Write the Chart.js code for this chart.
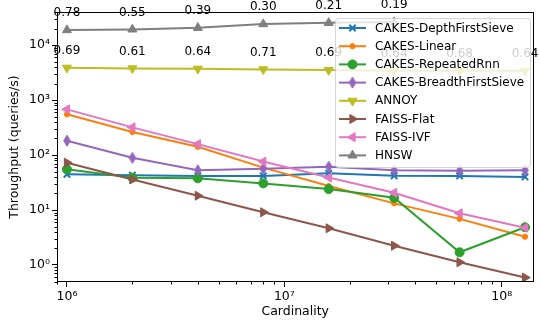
<!DOCTYPE html>
<html><head><meta charset="utf-8">
<script src="https://cdn.jsdelivr.net/npm/chart.js@4/dist/chart.umd.min.js"></script>
<style>html,body{margin:0;padding:0;background:#fff}</style>
</head><body>
<canvas id="c" width="540" height="322"></canvas>
<script>
// ---- data ----
const cardinality = [1e6, 2e6, 4e6, 8e6, 16e6, 32e6, 64e6, 128e6];
const seriesNames = ['CAKES-DepthFirstSieve','CAKES-Linear','CAKES-RepeatedRnn','CAKES-BreadthFirstSieve','ANNOY','FAISS-Flat','FAISS-IVF','HNSW'];
const depthFirstSieve = [44.5, 43, 41.6, 41.6, 46.5, 42, 41.6, 40];
const linear = [550, 262, 141, 59, 27.3, 13.2, 6.9, 3.27];
const repeatedRnn = [55, 38.7, 37.7, 30.5, 24, 16.7, 1.7, 4.85];
const breadthFirstSieve = [182, 89, 53, 56, 61.5, 53, 52, 53];
const annoy = [3866, 3770, 3707, 3614, 3510, 3410, 3400, 3400];
const faissFlat = [72.6, 36, 18.2, 9.1, 4.65, 2.24, 1.12, 0.59];
const faissIvf = [677, 319, 158, 76, 39, 20.6, 8.7, 4.77];
const hnsw = [18750, 19300, 20650, 24100, 25400, 26200];
const annoyRecall = ['0.69','0.61','0.64','0.71','0.69','0.64','0.68','0.64'];
const hnswRecall = ['0.78','0.55','0.39','0.30','0.21','0.19'];
const xTickValues = [1e6, 1e7, 1e8];
const yTickValues = [1, 10, 100, 1000, 10000];

// ---- styles ----
const FONT = "'DejaVu Sans', sans-serif";
function thinDiamond(color){
  const c = document.createElement('canvas'); c.width = 10; c.height = 13;
  const g = c.getContext('2d');
  g.beginPath(); g.moveTo(5,1); g.lineTo(8.3,6.5); g.lineTo(5,12); g.lineTo(1.7,6.5); g.closePath();
  g.fillStyle = color; g.strokeStyle = color; g.lineWidth = 1; g.fill(); g.stroke();
  return c;
}
const styles = [
  {color:'#1f77b4', pointStyle:'crossRot', rotation:0, radius:4.5, bw:2},
  {color:'#ff7f0e', pointStyle:'circle', rotation:0, radius:2.6, bw:1},
  {color:'#2ca02c', pointStyle:'circle', rotation:0, radius:4.5, bw:1},
  {color:'#9467bd', pointStyle:thinDiamond('#9467bd'), rotation:0, radius:5, bw:1},
  {color:'#bcbd22', pointStyle:'triangle', rotation:180, radius:5.2, bw:1},
  {color:'#8c564b', pointStyle:'triangle', rotation:90, radius:5.2, bw:1},
  {color:'#e377c2', pointStyle:'triangle', rotation:270, radius:5.2, bw:1},
  {color:'#7f7f7f', pointStyle:'triangle', rotation:0, radius:5.2, bw:1},
];
const seriesValues = [depthFirstSieve, linear, repeatedRnn, breadthFirstSieve, annoy, faissFlat, faissIvf, hnsw];
const sup = {'0':'⁰','1':'¹','2':'²','3':'³','4':'⁴','5':'⁵','6':'⁶','7':'⁷','8':'⁸','9':'⁹','-':'⁻'};
function powLabel(v){ const e = Math.round(Math.log10(v)); return '10' + String(e).split('').map(c=>sup[c]).join(''); }

const datasets = seriesValues.map((vals, i) => ({
  label: seriesNames[i],
  data: vals.map((v, j) => ({x: cardinality[j], y: v})),
  borderColor: styles[i].color,
  backgroundColor: styles[i].color,
  borderWidth: 2,
  pointStyle: styles[i].pointStyle,
  pointRotation: styles[i].rotation,
  pointRadius: styles[i].radius,
  pointBorderWidth: styles[i].bw,
  pointBackgroundColor: styles[i].color,
  pointBorderColor: styles[i].color,
  tension: 0,
  order: seriesValues.length - 1 - i,
}));

const extras = {
  id: 'extras',
  afterDatasetsDraw(chart){
    const {ctx, chartArea: a, scales: {x, y}} = chart;
    ctx.save();
    // recall annotations
    ctx.fillStyle = '#000';
    ctx.font = '12px ' + FONT;
    ctx.textAlign = 'center'; ctx.textBaseline = 'middle';
    const ann = [[4, annoyRecall], [7, hnswRecall]];
    ann.forEach(([di, labels]) => {
      const meta = chart.getDatasetMeta(di);
      labels.forEach((t, j) => {
        const p = meta.data[j];
        ctx.fillText(t, p.x, p.y - 17);
      });
    });
    // frame
    ctx.strokeStyle = '#000'; ctx.lineWidth = 1;
    const L = Math.round(a.left) + 0.5, T = Math.round(a.top) + 0.5, R = Math.round(a.right) - 0.5, B = Math.round(a.bottom) - 0.5;
    ctx.strokeRect(L, T, R - L, B - T);
    // minor ticks
    ctx.beginPath();
    for (let n = 5; n <= 8; n++) for (let k = 2; k <= 9; k++) {
      const v = k * Math.pow(10, n);
      if (v < x.min || v > x.max) continue;
      const px = Math.round(x.getPixelForValue(v)) + 0.5;
      ctx.moveTo(px, B); ctx.lineTo(px, B + 3);
    }
    for (let n = -1; n <= 4; n++) for (let k = 2; k <= 9; k++) {
      const v = k * Math.pow(10, n);
      if (v < y.min || v > y.max) continue;
      const py = Math.round(y.getPixelForValue(v)) + 0.5;
      ctx.moveTo(L, py); ctx.lineTo(L - 3, py);
    }
    ctx.stroke();
    ctx.restore();
  },
  afterDraw(chart){
    const ctx = chart.ctx;
    ctx.save();
    const bx = 335, by = 18, bw = 195, bh = 149;
    ctx.beginPath();
    ctx.roundRect(bx + 0.5, by + 0.5, bw, bh, 3);
    ctx.fillStyle = 'rgba(255,255,255,0.8)';
    ctx.fill();
    ctx.strokeStyle = 'rgba(204,204,204,0.8)';
    ctx.lineWidth = 1;
    ctx.stroke();
    ctx.font = '12px ' + FONT;
    ctx.textAlign = 'left'; ctx.textBaseline = 'middle';
    seriesNames.forEach((name, i) => {
      const yy = 28 + i * 18.2;
      const s = styles[i];
      ctx.strokeStyle = s.color; ctx.fillStyle = s.color; ctx.lineWidth = 2;
      ctx.beginPath(); ctx.moveTo(339, yy); ctx.lineTo(366, yy); ctx.stroke();
      ctx.lineWidth = s.bw;
      Chart.helpers.drawPoint(ctx, {pointStyle: s.pointStyle, rotation: s.rotation, radius: s.radius, borderWidth: s.bw}, 352.5, yy);
      ctx.fillStyle = '#000';
      ctx.fillText(name, 375, yy + 0.5);
    });
    ctx.restore();
  }
};

new Chart(document.getElementById('c'), {
  type: 'line',
  data: { datasets },
  options: {
    responsive: false, animation: false, devicePixelRatio: 1,
    layout: { padding: { top: 12, right: 5, left: 0, bottom: 0 } },
    plugins: { legend: { display: false }, tooltip: { enabled: false } },
    scales: {
      x: {
        type: 'logarithmic',
        min: 0.9e6, max: 1.40e8,
        afterFit: s => { s.height = 40; },
        afterBuildTicks: s => { s.ticks = xTickValues.map(v => ({value: v, major: true})); },
        ticks: { autoSkip: false, maxRotation: 0, padding: 2, color: '#000', font: { family: FONT, size: 12.5 }, callback: v => powLabel(v) },
        grid: { drawOnChartArea: false, drawTicks: true, tickLength: 5, color: '#000', tickColor: '#000' },
        border: { display: false },
        title: { display: true, text: 'Cardinality', color: '#000', font: { family: FONT, size: 12.5 }, padding: { top: 0, bottom: 2.5 } }
      },
      y: {
        type: 'logarithmic',
        min: 0.49, max: 40000,
        afterFit: s => { s.width = 57; },
        afterBuildTicks: s => { s.ticks = yTickValues.map(v => ({value: v, major: true})); },
        ticks: { autoSkip: false, padding: 2, color: '#000', font: { family: FONT, size: 12.5 }, callback: v => powLabel(v) },
        grid: { drawOnChartArea: false, drawTicks: true, tickLength: 5, color: '#000', tickColor: '#000' },
        border: { display: false },
        title: { display: true, text: 'Throughput (queries/s)', color: '#000', font: { family: FONT, size: 12.5 }, padding: { top: 7, bottom: 0 } }
      }
    }
  },
  plugins: [extras]
});
</script>
</body></html>
